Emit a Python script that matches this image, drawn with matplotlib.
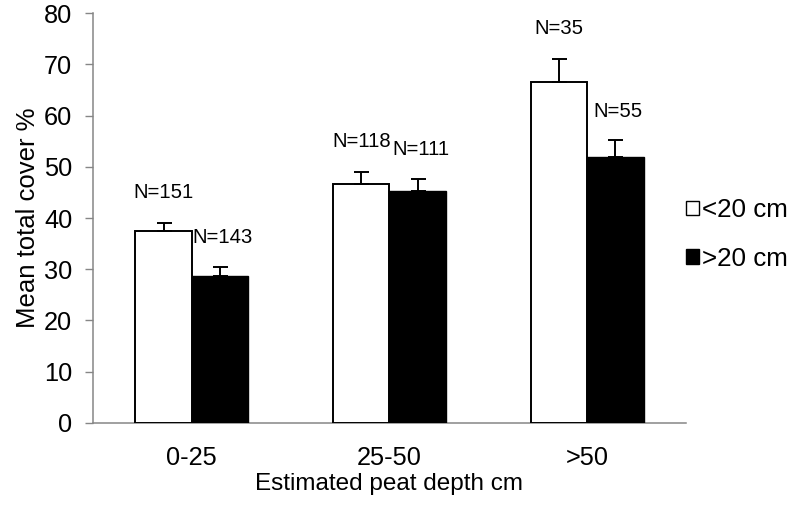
import matplotlib
matplotlib.use("Agg")
import matplotlib.pyplot as plt
import numpy as np
from matplotlib.patches import Patch

plt.rcParams['font.family'] = ['Liberation Sans', 'DejaVu Sans']

categories = ["0-25", "25-50", ">50"]
series_names = ["<20 cm", ">20 cm"]
shallow_mean = [37.5, 46.7, 66.5]
shallow_err = [1.5, 2.3, 4.6]
deep_mean = [28.7, 45.3, 52.0]
deep_err = [1.7, 2.4, 3.2]
shallow_n = ["N=151", "N=118", "N=35"]
deep_n = ["N=143", "N=111", "N=55"]
yticks = [0, 10, 20, 30, 40, 50, 60, 70, 80]

fig = plt.figure(figsize=(7.95, 5.13), dpi=100)
ax = fig.add_axes([93/795, 1 - 422.7/513, 593/795, 409.4/513])

x = np.arange(len(categories))
w = 0.286
err_kw = dict(ecolor="black", elinewidth=1.4, capsize=5.4, capthick=1.4)
ax.bar(x - w/2, shallow_mean, w, color="white", edgecolor="black", linewidth=1.4,
       yerr=[np.zeros(len(x)), shallow_err], error_kw=err_kw, zorder=3)
ax.bar(x + w/2, deep_mean, w, color="black", edgecolor="black", linewidth=1.0,
       yerr=[np.zeros(len(x)), deep_err], error_kw=err_kw, zorder=3)

for i in range(len(x)):
    ax.annotate(shallow_n[i], (x[i] - w/2, shallow_mean[i] + shallow_err[i]),
                xytext=(0, 22), textcoords="offset points",
                ha="center", va="center", fontsize=14.6)
    ax.annotate(deep_n[i], (x[i] + w/2, deep_mean[i] + deep_err[i]),
                xytext=(2, 21), textcoords="offset points",
                ha="center", va="center", fontsize=14.6)

ax.set_xlim(-0.5, 2.5)
ax.set_ylim(0, 80)
ax.set_yticks(yticks)
ax.set_xticks(x)
ax.set_xticklabels(categories)
ax.tick_params(axis="x", length=0, pad=17, labelsize=18.3)
ax.tick_params(axis="y", length=6, width=1.0, color="#868686", pad=9, labelsize=18.3)

for s in ["top", "right"]:
    ax.spines[s].set_visible(False)
for s in ["left", "bottom"]:
    ax.spines[s].set_color("#868686")
    ax.spines[s].set_linewidth(1.1)

ax.set_ylabel("Mean total cover %", fontsize=18.5)
ax.set_xlabel("Estimated peat depth cm", fontsize=17.5)
ax.yaxis.set_label_coords(-0.09, 0.5)
ax.xaxis.set_label_coords(0.5, -0.122)

handles = [Patch(facecolor="white", edgecolor="black", linewidth=1.0),
           Patch(facecolor="black", edgecolor="black", linewidth=1.0)]
fig.legend(handles, series_names, loc="center left", bbox_to_anchor=(686/795, 1 - 234.5/513),
           frameon=False, fontsize=18.7, handlelength=0.5, handleheight=0.5,
           handletextpad=0.12, labelspacing=0.95, borderaxespad=0, borderpad=0)

fig.savefig("out.png", dpi=100)
